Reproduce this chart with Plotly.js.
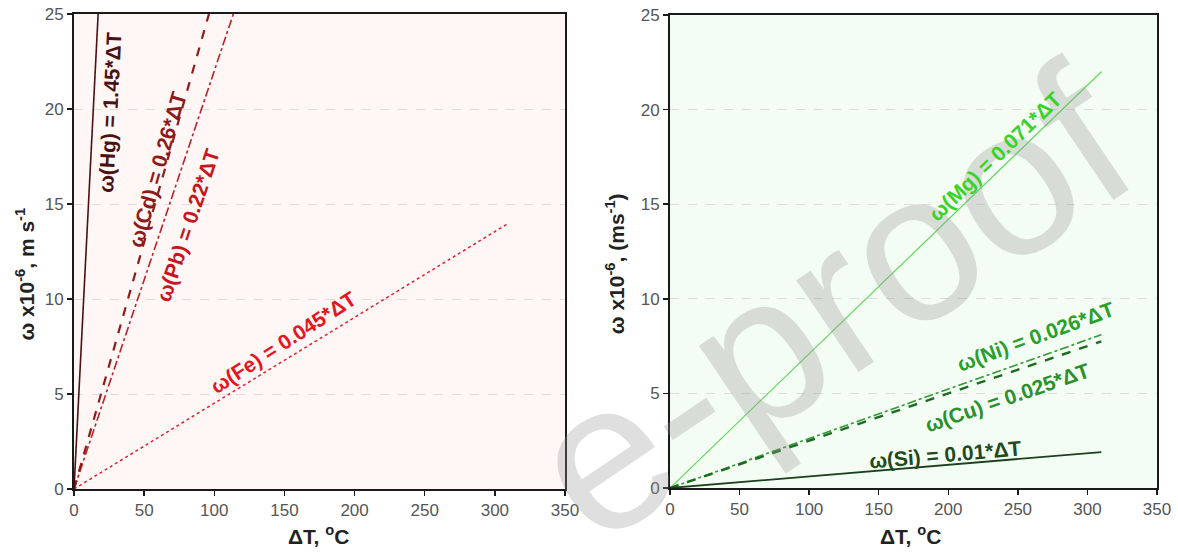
<!DOCTYPE html>
<html>
<head>
<meta charset="utf-8">
<script src="https://cdn.plot.ly/plotly-3.0.1.min.js"></script>
<style>html,body{margin:0;padding:0;background:#fff;}#chart{width:1178px;height:553px;}</style>
</head>
<body>
<div id="chart"></div>
<script>
// ---- data ----
const xTicks = [0, 50, 100, 150, 200, 250, 300, 350];
const yTicks = [0, 5, 10, 15, 20, 25];

// left panel (line end points, ΔT in °C, ω x10^-6 m/s)
const hgX = [0, 17.2],  hgY = [0, 25];
const cdX = [0, 96.2],  cdY = [0, 25];
const pbX = [0, 113.6], pbY = [0, 25];
const feX = [0, 310],   feY = [0, 14.0];

// right panel
const mgX = [0, 310], mgY = [0, 22.0];
const niX = [0, 310], niY = [0, 8.1];
const cuX = [0, 310], cuY = [0, 7.75];
const siX = [0, 310], siY = [0, 1.9];

const leftLabels  = ['ω(Hg) = 1.45*ΔT', 'ω(Cd) = 0.26*ΔT', 'ω(Pb) = 0.22*ΔT', 'ω(Fe) = 0.045*ΔT'];
const rightLabels = ['ω(Mg) = 0.071*ΔT', 'ω(Ni) = 0.026*ΔT', 'ω(Cu) = 0.025*ΔT', 'ω(Si) = 0.01*ΔT'];
const xTitle = 'ΔT, <sup>o</sup>C';
const yTitleLeft = 'ω x10<sup>-6</sup>, m s<sup>-1</sup>';
const yTitleRight = 'ω x10<sup>-6</sup>, (ms<sup>-1</sup>)';
const watermark = 'e-proof';

// ---- styles ----
const FONT = 'Liberation Sans, Arial, sans-serif';
const C = {
  hg: '#4a1212', cd: '#8e1b1b', pb: '#c0202a', fe: '#e8202e',
  mg: '#5fd85a', ni: '#2f9a32', cu: '#1f6a22', si: '#1c401c'
};

function line(x, y, color, dash, width, xa, ya) {
  return {x: x, y: y, type: 'scatter', mode: 'lines', xaxis: xa, yaxis: ya,
    line: {color: color, dash: dash, width: width}, hoverinfo: 'skip', showlegend: false};
}

const traces = [
  line(feX, feY, C.fe, 'dot', 1.5, 'x', 'y'),
  line(pbX, pbY, C.pb, 'dashdot', 1.6, 'x', 'y'),
  line(cdX, cdY, C.cd, 'dash', 2.2, 'x', 'y'),
  line(hgX, hgY, C.hg, 'solid', 1.6, 'x', 'y'),
  line(mgX, mgY, C.mg, 'solid', 1.2, 'x2', 'y2'),
  line(niX, niY, C.ni, 'dashdot', 1.6, 'x2', 'y2'),
  line(cuX, cuY, C.cu, 'dash', 2.4, 'x2', 'y2'),
  line(siX, siY, C.si, 'solid', 1.8, 'x2', 'y2')
];

function xAxis(domain, anchor) {
  return {domain: domain, anchor: anchor, range: [0, 350], tickvals: xTicks, ticktext: xTicks.map(String),
    showgrid: false, zeroline: false, showline: true, mirror: true, linecolor: '#1a1a1a', linewidth: 2,
    ticks: 'outside', ticklen: 5, tickwidth: 1.5, tickcolor: '#1a1a1a',
    tickfont: {family: FONT, size: 17, color: '#555'}, automargin: false, fixedrange: true};
}
function yAxis(domain, anchor) {
  return {domain: domain, anchor: anchor, range: [0, 25], tickvals: yTicks, ticktext: yTicks.map(String),
    showgrid: true, gridcolor: '#dcdcdc', griddash: 'dash', gridwidth: 1, zeroline: false,
    showline: true, mirror: true, linecolor: '#1a1a1a', linewidth: 2,
    ticks: 'outside', ticklen: 5, tickwidth: 1.5, tickcolor: '#1a1a1a',
    tickfont: {family: FONT, size: 17, color: '#555'}, automargin: false, fixedrange: true};
}

function lbl(text, x, y, angle, color, xref, yref) {
  return {text: '<b>' + text + '</b>', x: x, y: y, xref: xref, yref: yref, showarrow: false,
    textangle: angle, xanchor: 'center', yanchor: 'middle',
    font: {family: FONT, size: 21, color: color}};
}

const annotations = [
  // watermark (drawn first, light)
  {text: watermark, x: 0.705, y: 0.452, xref: 'paper', yref: 'paper', showarrow: false,
    textangle: -34, xanchor: 'center', yanchor: 'middle',
    font: {family: FONT, size: 210, color: 'rgba(150,150,150,0.3)'}},
  lbl(leftLabels[0], 25.7, 19.8, -87, C.hg, 'x', 'y'),
  lbl(leftLabels[1], 59.3, 16.8, -74, C.cd, 'x', 'y'),
  lbl(leftLabels[2], 81.4, 13.9, -71.5, '#c8141e', 'x', 'y'),
  lbl(leftLabels[3], 149, 7.7, -33, '#e8141e', 'x', 'y'),
  lbl(rightLabels[0], 233.6, 17.5, -44, '#3ad22a', 'x2', 'y2'),
  lbl(rightLabels[1], 262.4, 8.0, -20, '#28a02a', 'x2', 'y2'),
  lbl(rightLabels[2], 242.3, 4.8, -19, '#2c902c', 'x2', 'y2'),
  lbl(rightLabels[3], 197.7, 1.75, -5, '#1e4a1e', 'x2', 'y2'),
  // axis titles
  {text: '<b>' + xTitle + '</b>', x: 0.27, y: 0.033, xref: 'paper', yref: 'paper', showarrow: false,
    xanchor: 'center', yanchor: 'middle', font: {family: FONT, size: 21, color: '#222'}},
  {text: '<b>' + xTitle + '</b>', x: 0.773, y: 0.033, xref: 'paper', yref: 'paper', showarrow: false,
    xanchor: 'center', yanchor: 'middle', font: {family: FONT, size: 21, color: '#222'}},
  {text: '<b>' + yTitleLeft + '</b>', x: 0.021, y: 0.505, xref: 'paper', yref: 'paper', showarrow: false,
    textangle: -90, xanchor: 'center', yanchor: 'middle', font: {family: FONT, size: 21, color: '#222'}},
  {text: '<b>' + yTitleRight + '</b>', x: 0.522, y: 0.524, xref: 'paper', yref: 'paper', showarrow: false,
    textangle: -90, xanchor: 'center', yanchor: 'middle', font: {family: FONT, size: 21, color: '#222'}}
];

const shapes = [
  {type: 'rect', xref: 'x domain', yref: 'y domain', x0: 0, x1: 1, y0: 0, y1: 1,
    fillcolor: '#fef7f5', line: {width: 0}, layer: 'below'},
  {type: 'rect', xref: 'x2 domain', yref: 'y2 domain', x0: 0, x1: 1, y0: 0, y1: 1,
    fillcolor: '#f4fdf3', line: {width: 0}, layer: 'below'}
];

const W = 1178, H = 553;
const layout = {
  width: W, height: H,
  margin: {l: 0, r: 0, t: 0, b: 0},
  paper_bgcolor: '#ffffff', plot_bgcolor: 'rgba(0,0,0,0)',
  showlegend: false,
  xaxis: xAxis([74 / W, 565 / W], 'y'),
  yaxis: yAxis([1 - 489 / H, 1 - 14 / H], 'x'),
  xaxis2: xAxis([670 / W, 1157 / W], 'y2'),
  yaxis2: yAxis([1 - 488 / H, 1 - 15 / H], 'x2'),
  annotations: annotations,
  shapes: shapes
};

Plotly.newPlot('chart', traces, layout, {displayModeBar: false, staticPlot: true});
</script>
</body>
</html>
